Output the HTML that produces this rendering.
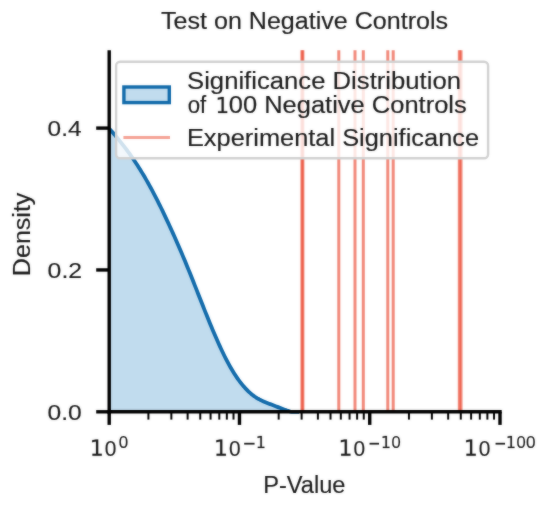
<!DOCTYPE html>
<html><head><meta charset="utf-8"><style>
html,body{margin:0;padding:0;background:#fff;width:550px;height:508px;overflow:hidden}
.wrap{position:relative;width:550px;height:508px}
.wrap svg{position:absolute;left:0;top:0;display:block}
.b{filter:blur(1px)}
.c{opacity:0.6}
</style></head><body><div class="wrap">
<svg class="b" width="550" height="508" viewBox="0 0 550 508">
<rect width="550" height="508" fill="#fff"/>
<path d="M109.20,128.58 L110.40,129.92 L111.59,131.26 L112.77,132.62 L113.96,134.00 L115.14,135.39 L116.32,136.79 L117.51,138.21 L118.69,139.65 L119.88,141.11 L121.06,142.58 L122.24,144.08 L123.43,145.59 L124.61,147.12 L125.79,148.68 L126.97,150.26 L128.16,151.86 L129.34,153.48 L130.52,155.13 L131.70,156.80 L132.88,158.50 L134.06,160.23 L135.24,161.99 L136.42,163.77 L137.60,165.58 L138.78,167.42 L139.96,169.29 L141.14,171.20 L142.32,173.13 L143.50,175.09 L144.68,177.09 L145.85,179.11 L147.03,181.16 L148.21,183.25 L149.38,185.36 L150.56,187.50 L151.74,189.67 L152.91,191.87 L154.09,194.09 L155.26,196.35 L156.44,198.63 L157.61,200.94 L158.79,203.28 L159.96,205.64 L161.13,208.03 L162.31,210.45 L163.48,212.89 L164.65,215.36 L165.82,217.86 L167.00,220.38 L168.20,222.93 L169.40,225.50 L170.60,228.09 L171.80,230.71 L173.00,233.36 L174.20,236.03 L175.40,238.72 L176.60,241.44 L177.80,244.18 L179.00,246.94 L180.20,249.73 L181.40,252.54 L182.60,255.37 L183.80,258.23 L185.00,261.10 L186.20,264.00 L187.40,266.92 L188.60,269.86 L189.80,272.82 L191.00,275.80 L192.20,278.80 L193.40,281.81 L194.60,284.83 L195.80,287.86 L197.00,290.90 L198.20,293.94 L199.40,296.98 L200.60,300.02 L201.80,303.05 L203.00,306.07 L204.20,309.09 L205.40,312.09 L206.60,315.08 L207.80,318.05 L209.00,321.00 L210.20,323.92 L211.40,326.82 L212.60,329.69 L213.80,332.53 L215.00,335.34 L216.20,338.10 L217.40,340.83 L218.60,343.52 L219.80,346.16 L221.00,348.76 L222.20,351.30 L223.40,353.80 L224.60,356.23 L225.80,358.61 L227.00,360.93 L228.20,363.19 L229.40,365.37 L230.60,367.50 L231.80,369.55 L233.00,371.54 L234.20,373.46 L235.40,375.32 L236.60,377.11 L237.80,378.84 L239.00,380.50 L240.20,382.10 L241.40,383.63 L242.60,385.10 L243.80,386.51 L245.00,387.86 L246.20,389.15 L247.40,390.37 L248.60,391.54 L249.80,392.64 L251.00,393.69 L252.20,394.67 L253.40,395.60 L254.60,396.47 L255.80,397.28 L257.00,398.04 L258.20,398.76 L259.40,399.43 L260.60,400.06 L261.80,400.65 L263.00,401.21 L264.20,401.74 L265.40,402.25 L266.60,402.74 L267.80,403.22 L269.00,403.68 L270.20,404.13 L271.40,404.58 L272.60,405.03 L273.80,405.49 L275.00,405.95 L276.20,406.42 L277.40,406.89 L278.60,407.37 L279.80,407.84 L281.00,408.31 L282.20,408.77 L283.40,409.23 L284.60,409.67 L285.80,410.09 L287.00,410.50 L288.20,410.88 L289.40,411.25 L290.60,411.59 L291.80,411.80 L293.00,411.80 L294.20,411.80 L295.40,411.80 L296.60,411.80 L297.80,411.80 L299.00,411.80 L500.0,411.8 L109.2,411.8 Z" fill="#c1dcee"/>
<path d="M109.20,128.58 L110.40,129.92 L111.59,131.26 L112.77,132.62 L113.96,134.00 L115.14,135.39 L116.32,136.79 L117.51,138.21 L118.69,139.65 L119.88,141.11 L121.06,142.58 L122.24,144.08 L123.43,145.59 L124.61,147.12 L125.79,148.68 L126.97,150.26 L128.16,151.86 L129.34,153.48 L130.52,155.13 L131.70,156.80 L132.88,158.50 L134.06,160.23 L135.24,161.99 L136.42,163.77 L137.60,165.58 L138.78,167.42 L139.96,169.29 L141.14,171.20 L142.32,173.13 L143.50,175.09 L144.68,177.09 L145.85,179.11 L147.03,181.16 L148.21,183.25 L149.38,185.36 L150.56,187.50 L151.74,189.67 L152.91,191.87 L154.09,194.09 L155.26,196.35 L156.44,198.63 L157.61,200.94 L158.79,203.28 L159.96,205.64 L161.13,208.03 L162.31,210.45 L163.48,212.89 L164.65,215.36 L165.82,217.86 L167.00,220.38 L168.20,222.93 L169.40,225.50 L170.60,228.09 L171.80,230.71 L173.00,233.36 L174.20,236.03 L175.40,238.72 L176.60,241.44 L177.80,244.18 L179.00,246.94 L180.20,249.73 L181.40,252.54 L182.60,255.37 L183.80,258.23 L185.00,261.10 L186.20,264.00 L187.40,266.92 L188.60,269.86 L189.80,272.82 L191.00,275.80 L192.20,278.80 L193.40,281.81 L194.60,284.83 L195.80,287.86 L197.00,290.90 L198.20,293.94 L199.40,296.98 L200.60,300.02 L201.80,303.05 L203.00,306.07 L204.20,309.09 L205.40,312.09 L206.60,315.08 L207.80,318.05 L209.00,321.00 L210.20,323.92 L211.40,326.82 L212.60,329.69 L213.80,332.53 L215.00,335.34 L216.20,338.10 L217.40,340.83 L218.60,343.52 L219.80,346.16 L221.00,348.76 L222.20,351.30 L223.40,353.80 L224.60,356.23 L225.80,358.61 L227.00,360.93 L228.20,363.19 L229.40,365.37 L230.60,367.50 L231.80,369.55 L233.00,371.54 L234.20,373.46 L235.40,375.32 L236.60,377.11 L237.80,378.84 L239.00,380.50 L240.20,382.10 L241.40,383.63 L242.60,385.10 L243.80,386.51 L245.00,387.86 L246.20,389.15 L247.40,390.37 L248.60,391.54 L249.80,392.64 L251.00,393.69 L252.20,394.67 L253.40,395.60 L254.60,396.47 L255.80,397.28 L257.00,398.04 L258.20,398.76 L259.40,399.43 L260.60,400.06 L261.80,400.65 L263.00,401.21 L264.20,401.74 L265.40,402.25 L266.60,402.74 L267.80,403.22 L269.00,403.68 L270.20,404.13 L271.40,404.58 L272.60,405.03 L273.80,405.49 L275.00,405.95 L276.20,406.42 L277.40,406.89 L278.60,407.37 L279.80,407.84 L281.00,408.31 L282.20,408.77 L283.40,409.23 L284.60,409.67 L285.80,410.09 L287.00,410.50 L288.20,410.88 L289.40,411.25 L290.60,411.59 L291.80,411.80 L293.00,411.80 L294.20,411.80 L295.40,411.80 L296.60,411.80 L297.80,411.80 L299.00,411.80" fill="none" stroke="#126bab" stroke-width="3.8" stroke-linejoin="round"/>
<line x1="301.9" y1="50.3" x2="301.9" y2="411.8" stroke="rgb(234,66,42)" stroke-opacity="0.62" stroke-width="3.0"/>
<line x1="302.9" y1="50.3" x2="302.9" y2="411.8" stroke="rgb(234,66,42)" stroke-opacity="0.62" stroke-width="3.0"/>
<line x1="338.8" y1="50.3" x2="338.8" y2="411.8" stroke="rgb(234,66,42)" stroke-opacity="0.62" stroke-width="3.0"/>
<line x1="355.0" y1="50.3" x2="355.0" y2="411.8" stroke="rgb(234,66,42)" stroke-opacity="0.62" stroke-width="3.0"/>
<line x1="363.3" y1="50.3" x2="363.3" y2="411.8" stroke="rgb(234,66,42)" stroke-opacity="0.62" stroke-width="3.0"/>
<line x1="387.8" y1="50.3" x2="387.8" y2="411.8" stroke="rgb(234,66,42)" stroke-opacity="0.62" stroke-width="3.0"/>
<line x1="393.2" y1="50.3" x2="393.2" y2="411.8" stroke="rgb(234,66,42)" stroke-opacity="0.62" stroke-width="3.0"/>
<line x1="459.3" y1="50.3" x2="459.3" y2="411.8" stroke="rgb(234,66,42)" stroke-opacity="0.62" stroke-width="3.0"/>
<line x1="461.0" y1="50.3" x2="461.0" y2="411.8" stroke="rgb(234,66,42)" stroke-opacity="0.62" stroke-width="3.0"/>
<line x1="109.2" y1="50.3" x2="109.2" y2="413.5" stroke="#000" stroke-width="3.4"/>
<line x1="107.5" y1="411.8" x2="501.7" y2="411.8" stroke="#000" stroke-width="3.4"/>
<line x1="96.2" y1="411.80" x2="109.2" y2="411.80" stroke="#000" stroke-width="3.4"/>
<line x1="96.2" y1="269.95" x2="109.2" y2="269.95" stroke="#000" stroke-width="3.4"/>
<line x1="96.2" y1="128.10" x2="109.2" y2="128.10" stroke="#000" stroke-width="3.4"/>
<line x1="109.20" y1="411.8" x2="109.20" y2="424.9" stroke="#000" stroke-width="3.4"/>
<line x1="239.47" y1="411.8" x2="239.47" y2="424.9" stroke="#000" stroke-width="3.4"/>
<line x1="369.73" y1="411.8" x2="369.73" y2="424.9" stroke="#000" stroke-width="3.4"/>
<line x1="500.00" y1="411.8" x2="500.00" y2="424.9" stroke="#000" stroke-width="3.4"/>
<line x1="148.41" y1="411.8" x2="148.41" y2="419.6" stroke="#000" stroke-width="2.0"/>
<line x1="171.35" y1="411.8" x2="171.35" y2="419.6" stroke="#000" stroke-width="2.0"/>
<line x1="187.63" y1="411.8" x2="187.63" y2="419.6" stroke="#000" stroke-width="2.0"/>
<line x1="200.25" y1="411.8" x2="200.25" y2="419.6" stroke="#000" stroke-width="2.0"/>
<line x1="210.57" y1="411.8" x2="210.57" y2="419.6" stroke="#000" stroke-width="2.0"/>
<line x1="219.29" y1="411.8" x2="219.29" y2="419.6" stroke="#000" stroke-width="2.0"/>
<line x1="226.84" y1="411.8" x2="226.84" y2="419.6" stroke="#000" stroke-width="2.0"/>
<line x1="233.51" y1="411.8" x2="233.51" y2="419.6" stroke="#000" stroke-width="2.0"/>
<line x1="278.68" y1="411.8" x2="278.68" y2="419.6" stroke="#000" stroke-width="2.0"/>
<line x1="301.62" y1="411.8" x2="301.62" y2="419.6" stroke="#000" stroke-width="2.0"/>
<line x1="317.90" y1="411.8" x2="317.90" y2="419.6" stroke="#000" stroke-width="2.0"/>
<line x1="330.52" y1="411.8" x2="330.52" y2="419.6" stroke="#000" stroke-width="2.0"/>
<line x1="340.83" y1="411.8" x2="340.83" y2="419.6" stroke="#000" stroke-width="2.0"/>
<line x1="349.55" y1="411.8" x2="349.55" y2="419.6" stroke="#000" stroke-width="2.0"/>
<line x1="357.11" y1="411.8" x2="357.11" y2="419.6" stroke="#000" stroke-width="2.0"/>
<line x1="363.77" y1="411.8" x2="363.77" y2="419.6" stroke="#000" stroke-width="2.0"/>
<line x1="408.95" y1="411.8" x2="408.95" y2="419.6" stroke="#000" stroke-width="2.0"/>
<line x1="431.89" y1="411.8" x2="431.89" y2="419.6" stroke="#000" stroke-width="2.0"/>
<line x1="448.16" y1="411.8" x2="448.16" y2="419.6" stroke="#000" stroke-width="2.0"/>
<line x1="460.79" y1="411.8" x2="460.79" y2="419.6" stroke="#000" stroke-width="2.0"/>
<line x1="471.10" y1="411.8" x2="471.10" y2="419.6" stroke="#000" stroke-width="2.0"/>
<line x1="479.82" y1="411.8" x2="479.82" y2="419.6" stroke="#000" stroke-width="2.0"/>
<line x1="487.38" y1="411.8" x2="487.38" y2="419.6" stroke="#000" stroke-width="2.0"/>
<line x1="494.04" y1="411.8" x2="494.04" y2="419.6" stroke="#000" stroke-width="2.0"/>
<rect x="116.1" y="61.7" width="372" height="96.6" rx="4" ry="4" fill="#fff" fill-opacity="0.8" stroke="#d2d2d2" stroke-width="2.4"/>
<rect x="123.9" y="87.0" width="45.4" height="15.6" fill="#c1dcee" stroke="#126bab" stroke-width="3.4"/>
<line x1="123.4" y1="137.6" x2="170.0" y2="137.6" stroke="rgb(245,163,150)" stroke-width="3.0"/>
<g font-family='"Liberation Sans", sans-serif' fill="#1c1c1c" stroke="#1c1c1c" stroke-width="0.15">
<text x="161.04" y="28.80" font-size="23.3" textLength="287.06" lengthAdjust="spacingAndGlyphs">Test on Negative Controls</text>
<text x="187.04" y="89.00" font-size="23.3" textLength="273.96" lengthAdjust="spacingAndGlyphs">Significance Distribution</text>
<text x="187.72" y="113.00" font-size="23.3" textLength="18.54" lengthAdjust="spacingAndGlyphs">of</text>
<text x="228.72" y="113.00" font-size="23.3" textLength="238.01" lengthAdjust="spacingAndGlyphs">00 Negative Controls</text>
<text x="186.93" y="145.60" font-size="23.3" textLength="292.16" lengthAdjust="spacingAndGlyphs">Experimental Significance</text>
<text x="263.17" y="492.60" font-size="23.3" textLength="82.30" lengthAdjust="spacingAndGlyphs">P-Value</text>
<text x="47.63" y="136.40" font-size="22.6" textLength="33.92" lengthAdjust="spacingAndGlyphs">0.4</text>
<text x="47.61" y="278.25" font-size="22.6" textLength="34.49" lengthAdjust="spacingAndGlyphs">0.2</text>
<text x="47.62" y="420.10" font-size="22.6" textLength="34.20" lengthAdjust="spacingAndGlyphs">0.0</text>
<text x="104.82" y="455.70" font-size="22.6" textLength="11.63" lengthAdjust="spacingAndGlyphs">0</text>
<text x="118.80" y="448.10" font-size="16.9" textLength="9.43" lengthAdjust="spacingAndGlyphs">0</text>
<text x="228.93" y="455.70" font-size="22.6" textLength="11.63" lengthAdjust="spacingAndGlyphs">0</text>
<text x="353.50" y="455.70" font-size="22.6" textLength="11.63" lengthAdjust="spacingAndGlyphs">0</text>
<text x="391.40" y="448.10" font-size="16.9" textLength="9.20" lengthAdjust="spacingAndGlyphs">0</text>
<text x="478.82" y="455.70" font-size="22.6" textLength="11.63" lengthAdjust="spacingAndGlyphs">0</text>
<text x="516.41" y="448.10" font-size="16.9" textLength="9.20" lengthAdjust="spacingAndGlyphs">0</text>
<text x="526.09" y="448.10" font-size="16.9" textLength="9.54" lengthAdjust="spacingAndGlyphs">0</text>
<text transform="translate(29.9,274.125) rotate(-90)" x="-2.02" y="0" font-size="23.3" textLength="83.54" lengthAdjust="spacingAndGlyphs">Density</text>
</g>
<g>
<rect x="244.17" y="442.80" width="10.40" height="1.8" fill="#1c1c1c"/>
<rect x="369.53" y="442.80" width="9.50" height="1.8" fill="#1c1c1c"/>
<rect x="495.55" y="442.80" width="9.50" height="1.8" fill="#1c1c1c"/>
<path d="M218.11,111.18 L221.60,111.18 L221.60,98.97 L217.80,99.74 L217.80,97.77 L221.57,97.00 L223.71,97.00 L223.71,111.18 L227.20,111.18 L227.20,113.00 L218.11,113.00 Z" fill="#1c1c1c" stroke="#1c1c1c" stroke-width="0.2"/>
<path d="M92.46,453.86 L96.03,453.86 L96.03,441.50 L92.15,442.28 L92.15,440.28 L96.01,439.50 L98.19,439.50 L98.19,453.86 L101.75,453.86 L101.75,455.70 L92.46,455.70 Z" fill="#1c1c1c" stroke="#1c1c1c" stroke-width="0.2"/>
<path d="M216.58,453.86 L220.14,453.86 L220.14,441.50 L216.27,442.28 L216.27,440.28 L220.12,439.50 L222.30,439.50 L222.30,453.86 L225.87,453.86 L225.87,455.70 L216.58,455.70 Z" fill="#1c1c1c" stroke="#1c1c1c" stroke-width="0.2"/>
<path d="M257.79,446.71 L260.31,446.71 L260.31,437.40 L257.57,437.99 L257.57,436.49 L260.30,435.90 L261.84,435.90 L261.84,446.71 L264.37,446.71 L264.37,448.10 L257.79,448.10 Z" fill="#1c1c1c" stroke="#1c1c1c" stroke-width="0.2"/>
<path d="M341.15,453.86 L344.71,453.86 L344.71,441.50 L340.83,442.28 L340.83,440.28 L344.69,439.50 L346.87,439.50 L346.87,453.86 L350.43,453.86 L350.43,455.70 L341.15,455.70 Z" fill="#1c1c1c" stroke="#1c1c1c" stroke-width="0.2"/>
<path d="M382.86,446.71 L385.38,446.71 L385.38,437.40 L382.63,437.99 L382.63,436.49 L385.36,435.90 L386.91,435.90 L386.91,446.71 L389.43,446.71 L389.43,448.10 L382.86,448.10 Z" fill="#1c1c1c" stroke="#1c1c1c" stroke-width="0.2"/>
<path d="M466.46,453.86 L470.03,453.86 L470.03,441.50 L466.15,442.28 L466.15,440.28 L470.01,439.50 L472.19,439.50 L472.19,453.86 L475.75,453.86 L475.75,455.70 L466.46,455.70 Z" fill="#1c1c1c" stroke="#1c1c1c" stroke-width="0.2"/>
<path d="M507.87,446.71 L510.40,446.71 L510.40,437.40 L507.65,437.99 L507.65,436.49 L510.38,435.90 L511.93,435.90 L511.93,446.71 L514.45,446.71 L514.45,448.10 L507.87,448.10 Z" fill="#1c1c1c" stroke="#1c1c1c" stroke-width="0.2"/>
</g>
</svg>
<svg class="c" width="550" height="508" viewBox="0 0 550 508">
<rect width="550" height="508" fill="#fff"/>
<path d="M109.20,128.58 L110.40,129.92 L111.59,131.26 L112.77,132.62 L113.96,134.00 L115.14,135.39 L116.32,136.79 L117.51,138.21 L118.69,139.65 L119.88,141.11 L121.06,142.58 L122.24,144.08 L123.43,145.59 L124.61,147.12 L125.79,148.68 L126.97,150.26 L128.16,151.86 L129.34,153.48 L130.52,155.13 L131.70,156.80 L132.88,158.50 L134.06,160.23 L135.24,161.99 L136.42,163.77 L137.60,165.58 L138.78,167.42 L139.96,169.29 L141.14,171.20 L142.32,173.13 L143.50,175.09 L144.68,177.09 L145.85,179.11 L147.03,181.16 L148.21,183.25 L149.38,185.36 L150.56,187.50 L151.74,189.67 L152.91,191.87 L154.09,194.09 L155.26,196.35 L156.44,198.63 L157.61,200.94 L158.79,203.28 L159.96,205.64 L161.13,208.03 L162.31,210.45 L163.48,212.89 L164.65,215.36 L165.82,217.86 L167.00,220.38 L168.20,222.93 L169.40,225.50 L170.60,228.09 L171.80,230.71 L173.00,233.36 L174.20,236.03 L175.40,238.72 L176.60,241.44 L177.80,244.18 L179.00,246.94 L180.20,249.73 L181.40,252.54 L182.60,255.37 L183.80,258.23 L185.00,261.10 L186.20,264.00 L187.40,266.92 L188.60,269.86 L189.80,272.82 L191.00,275.80 L192.20,278.80 L193.40,281.81 L194.60,284.83 L195.80,287.86 L197.00,290.90 L198.20,293.94 L199.40,296.98 L200.60,300.02 L201.80,303.05 L203.00,306.07 L204.20,309.09 L205.40,312.09 L206.60,315.08 L207.80,318.05 L209.00,321.00 L210.20,323.92 L211.40,326.82 L212.60,329.69 L213.80,332.53 L215.00,335.34 L216.20,338.10 L217.40,340.83 L218.60,343.52 L219.80,346.16 L221.00,348.76 L222.20,351.30 L223.40,353.80 L224.60,356.23 L225.80,358.61 L227.00,360.93 L228.20,363.19 L229.40,365.37 L230.60,367.50 L231.80,369.55 L233.00,371.54 L234.20,373.46 L235.40,375.32 L236.60,377.11 L237.80,378.84 L239.00,380.50 L240.20,382.10 L241.40,383.63 L242.60,385.10 L243.80,386.51 L245.00,387.86 L246.20,389.15 L247.40,390.37 L248.60,391.54 L249.80,392.64 L251.00,393.69 L252.20,394.67 L253.40,395.60 L254.60,396.47 L255.80,397.28 L257.00,398.04 L258.20,398.76 L259.40,399.43 L260.60,400.06 L261.80,400.65 L263.00,401.21 L264.20,401.74 L265.40,402.25 L266.60,402.74 L267.80,403.22 L269.00,403.68 L270.20,404.13 L271.40,404.58 L272.60,405.03 L273.80,405.49 L275.00,405.95 L276.20,406.42 L277.40,406.89 L278.60,407.37 L279.80,407.84 L281.00,408.31 L282.20,408.77 L283.40,409.23 L284.60,409.67 L285.80,410.09 L287.00,410.50 L288.20,410.88 L289.40,411.25 L290.60,411.59 L291.80,411.80 L293.00,411.80 L294.20,411.80 L295.40,411.80 L296.60,411.80 L297.80,411.80 L299.00,411.80 L500.0,411.8 L109.2,411.8 Z" fill="#c1dcee"/>
<path d="M109.20,128.58 L110.40,129.92 L111.59,131.26 L112.77,132.62 L113.96,134.00 L115.14,135.39 L116.32,136.79 L117.51,138.21 L118.69,139.65 L119.88,141.11 L121.06,142.58 L122.24,144.08 L123.43,145.59 L124.61,147.12 L125.79,148.68 L126.97,150.26 L128.16,151.86 L129.34,153.48 L130.52,155.13 L131.70,156.80 L132.88,158.50 L134.06,160.23 L135.24,161.99 L136.42,163.77 L137.60,165.58 L138.78,167.42 L139.96,169.29 L141.14,171.20 L142.32,173.13 L143.50,175.09 L144.68,177.09 L145.85,179.11 L147.03,181.16 L148.21,183.25 L149.38,185.36 L150.56,187.50 L151.74,189.67 L152.91,191.87 L154.09,194.09 L155.26,196.35 L156.44,198.63 L157.61,200.94 L158.79,203.28 L159.96,205.64 L161.13,208.03 L162.31,210.45 L163.48,212.89 L164.65,215.36 L165.82,217.86 L167.00,220.38 L168.20,222.93 L169.40,225.50 L170.60,228.09 L171.80,230.71 L173.00,233.36 L174.20,236.03 L175.40,238.72 L176.60,241.44 L177.80,244.18 L179.00,246.94 L180.20,249.73 L181.40,252.54 L182.60,255.37 L183.80,258.23 L185.00,261.10 L186.20,264.00 L187.40,266.92 L188.60,269.86 L189.80,272.82 L191.00,275.80 L192.20,278.80 L193.40,281.81 L194.60,284.83 L195.80,287.86 L197.00,290.90 L198.20,293.94 L199.40,296.98 L200.60,300.02 L201.80,303.05 L203.00,306.07 L204.20,309.09 L205.40,312.09 L206.60,315.08 L207.80,318.05 L209.00,321.00 L210.20,323.92 L211.40,326.82 L212.60,329.69 L213.80,332.53 L215.00,335.34 L216.20,338.10 L217.40,340.83 L218.60,343.52 L219.80,346.16 L221.00,348.76 L222.20,351.30 L223.40,353.80 L224.60,356.23 L225.80,358.61 L227.00,360.93 L228.20,363.19 L229.40,365.37 L230.60,367.50 L231.80,369.55 L233.00,371.54 L234.20,373.46 L235.40,375.32 L236.60,377.11 L237.80,378.84 L239.00,380.50 L240.20,382.10 L241.40,383.63 L242.60,385.10 L243.80,386.51 L245.00,387.86 L246.20,389.15 L247.40,390.37 L248.60,391.54 L249.80,392.64 L251.00,393.69 L252.20,394.67 L253.40,395.60 L254.60,396.47 L255.80,397.28 L257.00,398.04 L258.20,398.76 L259.40,399.43 L260.60,400.06 L261.80,400.65 L263.00,401.21 L264.20,401.74 L265.40,402.25 L266.60,402.74 L267.80,403.22 L269.00,403.68 L270.20,404.13 L271.40,404.58 L272.60,405.03 L273.80,405.49 L275.00,405.95 L276.20,406.42 L277.40,406.89 L278.60,407.37 L279.80,407.84 L281.00,408.31 L282.20,408.77 L283.40,409.23 L284.60,409.67 L285.80,410.09 L287.00,410.50 L288.20,410.88 L289.40,411.25 L290.60,411.59 L291.80,411.80 L293.00,411.80 L294.20,411.80 L295.40,411.80 L296.60,411.80 L297.80,411.80 L299.00,411.80" fill="none" stroke="#126bab" stroke-width="3.8" stroke-linejoin="round"/>
<line x1="301.9" y1="50.3" x2="301.9" y2="411.8" stroke="rgb(234,66,42)" stroke-opacity="0.62" stroke-width="3.0"/>
<line x1="302.9" y1="50.3" x2="302.9" y2="411.8" stroke="rgb(234,66,42)" stroke-opacity="0.62" stroke-width="3.0"/>
<line x1="338.8" y1="50.3" x2="338.8" y2="411.8" stroke="rgb(234,66,42)" stroke-opacity="0.62" stroke-width="3.0"/>
<line x1="355.0" y1="50.3" x2="355.0" y2="411.8" stroke="rgb(234,66,42)" stroke-opacity="0.62" stroke-width="3.0"/>
<line x1="363.3" y1="50.3" x2="363.3" y2="411.8" stroke="rgb(234,66,42)" stroke-opacity="0.62" stroke-width="3.0"/>
<line x1="387.8" y1="50.3" x2="387.8" y2="411.8" stroke="rgb(234,66,42)" stroke-opacity="0.62" stroke-width="3.0"/>
<line x1="393.2" y1="50.3" x2="393.2" y2="411.8" stroke="rgb(234,66,42)" stroke-opacity="0.62" stroke-width="3.0"/>
<line x1="459.3" y1="50.3" x2="459.3" y2="411.8" stroke="rgb(234,66,42)" stroke-opacity="0.62" stroke-width="3.0"/>
<line x1="461.0" y1="50.3" x2="461.0" y2="411.8" stroke="rgb(234,66,42)" stroke-opacity="0.62" stroke-width="3.0"/>
<line x1="109.2" y1="50.3" x2="109.2" y2="413.5" stroke="#000" stroke-width="3.4"/>
<line x1="107.5" y1="411.8" x2="501.7" y2="411.8" stroke="#000" stroke-width="3.4"/>
<line x1="96.2" y1="411.80" x2="109.2" y2="411.80" stroke="#000" stroke-width="3.4"/>
<line x1="96.2" y1="269.95" x2="109.2" y2="269.95" stroke="#000" stroke-width="3.4"/>
<line x1="96.2" y1="128.10" x2="109.2" y2="128.10" stroke="#000" stroke-width="3.4"/>
<line x1="109.20" y1="411.8" x2="109.20" y2="424.9" stroke="#000" stroke-width="3.4"/>
<line x1="239.47" y1="411.8" x2="239.47" y2="424.9" stroke="#000" stroke-width="3.4"/>
<line x1="369.73" y1="411.8" x2="369.73" y2="424.9" stroke="#000" stroke-width="3.4"/>
<line x1="500.00" y1="411.8" x2="500.00" y2="424.9" stroke="#000" stroke-width="3.4"/>
<line x1="148.41" y1="411.8" x2="148.41" y2="419.6" stroke="#000" stroke-width="2.0"/>
<line x1="171.35" y1="411.8" x2="171.35" y2="419.6" stroke="#000" stroke-width="2.0"/>
<line x1="187.63" y1="411.8" x2="187.63" y2="419.6" stroke="#000" stroke-width="2.0"/>
<line x1="200.25" y1="411.8" x2="200.25" y2="419.6" stroke="#000" stroke-width="2.0"/>
<line x1="210.57" y1="411.8" x2="210.57" y2="419.6" stroke="#000" stroke-width="2.0"/>
<line x1="219.29" y1="411.8" x2="219.29" y2="419.6" stroke="#000" stroke-width="2.0"/>
<line x1="226.84" y1="411.8" x2="226.84" y2="419.6" stroke="#000" stroke-width="2.0"/>
<line x1="233.51" y1="411.8" x2="233.51" y2="419.6" stroke="#000" stroke-width="2.0"/>
<line x1="278.68" y1="411.8" x2="278.68" y2="419.6" stroke="#000" stroke-width="2.0"/>
<line x1="301.62" y1="411.8" x2="301.62" y2="419.6" stroke="#000" stroke-width="2.0"/>
<line x1="317.90" y1="411.8" x2="317.90" y2="419.6" stroke="#000" stroke-width="2.0"/>
<line x1="330.52" y1="411.8" x2="330.52" y2="419.6" stroke="#000" stroke-width="2.0"/>
<line x1="340.83" y1="411.8" x2="340.83" y2="419.6" stroke="#000" stroke-width="2.0"/>
<line x1="349.55" y1="411.8" x2="349.55" y2="419.6" stroke="#000" stroke-width="2.0"/>
<line x1="357.11" y1="411.8" x2="357.11" y2="419.6" stroke="#000" stroke-width="2.0"/>
<line x1="363.77" y1="411.8" x2="363.77" y2="419.6" stroke="#000" stroke-width="2.0"/>
<line x1="408.95" y1="411.8" x2="408.95" y2="419.6" stroke="#000" stroke-width="2.0"/>
<line x1="431.89" y1="411.8" x2="431.89" y2="419.6" stroke="#000" stroke-width="2.0"/>
<line x1="448.16" y1="411.8" x2="448.16" y2="419.6" stroke="#000" stroke-width="2.0"/>
<line x1="460.79" y1="411.8" x2="460.79" y2="419.6" stroke="#000" stroke-width="2.0"/>
<line x1="471.10" y1="411.8" x2="471.10" y2="419.6" stroke="#000" stroke-width="2.0"/>
<line x1="479.82" y1="411.8" x2="479.82" y2="419.6" stroke="#000" stroke-width="2.0"/>
<line x1="487.38" y1="411.8" x2="487.38" y2="419.6" stroke="#000" stroke-width="2.0"/>
<line x1="494.04" y1="411.8" x2="494.04" y2="419.6" stroke="#000" stroke-width="2.0"/>
<rect x="116.1" y="61.7" width="372" height="96.6" rx="4" ry="4" fill="#fff" fill-opacity="0.8" stroke="#d2d2d2" stroke-width="2.4"/>
<rect x="123.9" y="87.0" width="45.4" height="15.6" fill="#c1dcee" stroke="#126bab" stroke-width="3.4"/>
<line x1="123.4" y1="137.6" x2="170.0" y2="137.6" stroke="rgb(245,163,150)" stroke-width="3.0"/>
<g font-family='"Liberation Sans", sans-serif' fill="#1c1c1c" stroke="#1c1c1c" stroke-width="0.15">
<text x="161.04" y="28.80" font-size="23.3" textLength="287.06" lengthAdjust="spacingAndGlyphs">Test on Negative Controls</text>
<text x="187.04" y="89.00" font-size="23.3" textLength="273.96" lengthAdjust="spacingAndGlyphs">Significance Distribution</text>
<text x="187.72" y="113.00" font-size="23.3" textLength="18.54" lengthAdjust="spacingAndGlyphs">of</text>
<text x="228.72" y="113.00" font-size="23.3" textLength="238.01" lengthAdjust="spacingAndGlyphs">00 Negative Controls</text>
<text x="186.93" y="145.60" font-size="23.3" textLength="292.16" lengthAdjust="spacingAndGlyphs">Experimental Significance</text>
<text x="263.17" y="492.60" font-size="23.3" textLength="82.30" lengthAdjust="spacingAndGlyphs">P-Value</text>
<text x="47.63" y="136.40" font-size="22.6" textLength="33.92" lengthAdjust="spacingAndGlyphs">0.4</text>
<text x="47.61" y="278.25" font-size="22.6" textLength="34.49" lengthAdjust="spacingAndGlyphs">0.2</text>
<text x="47.62" y="420.10" font-size="22.6" textLength="34.20" lengthAdjust="spacingAndGlyphs">0.0</text>
<text x="104.82" y="455.70" font-size="22.6" textLength="11.63" lengthAdjust="spacingAndGlyphs">0</text>
<text x="118.80" y="448.10" font-size="16.9" textLength="9.43" lengthAdjust="spacingAndGlyphs">0</text>
<text x="228.93" y="455.70" font-size="22.6" textLength="11.63" lengthAdjust="spacingAndGlyphs">0</text>
<text x="353.50" y="455.70" font-size="22.6" textLength="11.63" lengthAdjust="spacingAndGlyphs">0</text>
<text x="391.40" y="448.10" font-size="16.9" textLength="9.20" lengthAdjust="spacingAndGlyphs">0</text>
<text x="478.82" y="455.70" font-size="22.6" textLength="11.63" lengthAdjust="spacingAndGlyphs">0</text>
<text x="516.41" y="448.10" font-size="16.9" textLength="9.20" lengthAdjust="spacingAndGlyphs">0</text>
<text x="526.09" y="448.10" font-size="16.9" textLength="9.54" lengthAdjust="spacingAndGlyphs">0</text>
<text transform="translate(29.9,274.125) rotate(-90)" x="-2.02" y="0" font-size="23.3" textLength="83.54" lengthAdjust="spacingAndGlyphs">Density</text>
</g>
<g>
<rect x="244.17" y="442.80" width="10.40" height="1.8" fill="#1c1c1c"/>
<rect x="369.53" y="442.80" width="9.50" height="1.8" fill="#1c1c1c"/>
<rect x="495.55" y="442.80" width="9.50" height="1.8" fill="#1c1c1c"/>
<path d="M218.11,111.18 L221.60,111.18 L221.60,98.97 L217.80,99.74 L217.80,97.77 L221.57,97.00 L223.71,97.00 L223.71,111.18 L227.20,111.18 L227.20,113.00 L218.11,113.00 Z" fill="#1c1c1c" stroke="#1c1c1c" stroke-width="0.2"/>
<path d="M92.46,453.86 L96.03,453.86 L96.03,441.50 L92.15,442.28 L92.15,440.28 L96.01,439.50 L98.19,439.50 L98.19,453.86 L101.75,453.86 L101.75,455.70 L92.46,455.70 Z" fill="#1c1c1c" stroke="#1c1c1c" stroke-width="0.2"/>
<path d="M216.58,453.86 L220.14,453.86 L220.14,441.50 L216.27,442.28 L216.27,440.28 L220.12,439.50 L222.30,439.50 L222.30,453.86 L225.87,453.86 L225.87,455.70 L216.58,455.70 Z" fill="#1c1c1c" stroke="#1c1c1c" stroke-width="0.2"/>
<path d="M257.79,446.71 L260.31,446.71 L260.31,437.40 L257.57,437.99 L257.57,436.49 L260.30,435.90 L261.84,435.90 L261.84,446.71 L264.37,446.71 L264.37,448.10 L257.79,448.10 Z" fill="#1c1c1c" stroke="#1c1c1c" stroke-width="0.2"/>
<path d="M341.15,453.86 L344.71,453.86 L344.71,441.50 L340.83,442.28 L340.83,440.28 L344.69,439.50 L346.87,439.50 L346.87,453.86 L350.43,453.86 L350.43,455.70 L341.15,455.70 Z" fill="#1c1c1c" stroke="#1c1c1c" stroke-width="0.2"/>
<path d="M382.86,446.71 L385.38,446.71 L385.38,437.40 L382.63,437.99 L382.63,436.49 L385.36,435.90 L386.91,435.90 L386.91,446.71 L389.43,446.71 L389.43,448.10 L382.86,448.10 Z" fill="#1c1c1c" stroke="#1c1c1c" stroke-width="0.2"/>
<path d="M466.46,453.86 L470.03,453.86 L470.03,441.50 L466.15,442.28 L466.15,440.28 L470.01,439.50 L472.19,439.50 L472.19,453.86 L475.75,453.86 L475.75,455.70 L466.46,455.70 Z" fill="#1c1c1c" stroke="#1c1c1c" stroke-width="0.2"/>
<path d="M507.87,446.71 L510.40,446.71 L510.40,437.40 L507.65,437.99 L507.65,436.49 L510.38,435.90 L511.93,435.90 L511.93,446.71 L514.45,446.71 L514.45,448.10 L507.87,448.10 Z" fill="#1c1c1c" stroke="#1c1c1c" stroke-width="0.2"/>
</g>
</svg>
</div></body></html>
